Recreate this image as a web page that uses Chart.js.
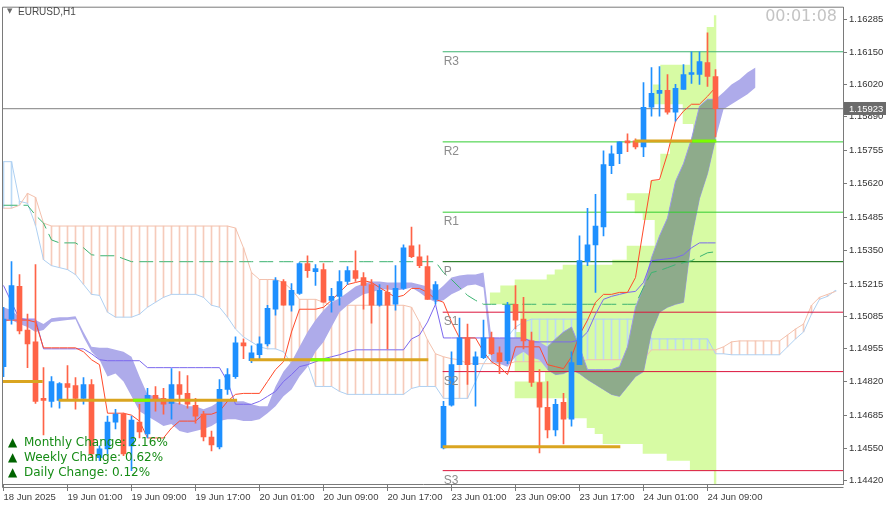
<!DOCTYPE html>
<html>
<head>
<meta charset="utf-8">
<script src="https://cdn.jsdelivr.net/npm/chart.js@4.4.1/dist/chart.umd.min.js"></script>
<style>
  html, body { margin: 0; padding: 0; background: #fff; }
  canvas { display: block; }
</style>
</head>
<body>
<canvas id="chart" width="889" height="510"></canvas>
<script>
// EURUSD H1 - bar 0 is 18 Jun 2025 17:00, one bar per hour
const xTickIdx = [0, 8, 16, 24, 32, 40, 48, 56, 64, 72, 80, 88];
const xLabels = ['18 Jun 2025', '19 Jun 01:00', '19 Jun 09:00', '19 Jun 17:00', '20 Jun 01:00', '20 Jun 09:00',
  '20 Jun 17:00', '23 Jun 01:00', '23 Jun 09:00', '23 Jun 17:00', '24 Jun 01:00', '24 Jun 09:00'];
const yTicks = [1.16285, 1.16150, 1.16020, 1.15890, 1.15755, 1.15620, 1.15485, 1.15350,
  1.15215, 1.15085, 1.14955, 1.14820, 1.14685, 1.14550, 1.14420];

const candleOpen = [
  1.14881, 1.15073, 1.15205, 1.15029, 1.14981, 1.14753, 1.14741, 1.14745, 1.14813, 1.14805,
  1.14753, 1.14809, 1.14513, 1.14549, 1.14657, 1.14689, 1.14561, 1.14657, 1.14609, 1.14765,
  1.14753, 1.14733, 1.14809, 1.14773, 1.14725, 1.14689, 1.14597, 1.14557, 1.14789, 1.14841,
  1.14977, 1.14905, 1.14929, 1.14973, 1.15113, 1.15225, 1.15129, 1.15177, 1.15297, 1.15265,
  1.15273, 1.15149, 1.15165, 1.15225, 1.15269, 1.15241, 1.15213, 1.15129, 1.15181, 1.15133,
  1.15197, 1.15369, 1.15325, 1.15285, 1.15153, 1.14553, 1.14725, 1.14889, 1.14997, 1.14889,
  1.14917, 1.14997, 1.14937, 1.14905, 1.15133, 1.15073, 1.14985, 1.14817, 1.14717, 1.14625,
  1.14737, 1.14669, 1.14889, 1.15305, 1.15373, 1.15445, 1.15693, 1.15741, 1.15793, 1.15793,
  1.15769, 1.15929, 1.15985, 1.15997, 1.15909, 1.16001, 1.16061, 1.16061, 1.16109, 1.16053];
const candleHigh = [
  1.15121, 1.15305, 1.15253, 1.15093, 1.15293, 1.14877, 1.14841, 1.14817, 1.14885, 1.14837,
  1.14837, 1.14829, 1.14561, 1.14681, 1.14709, 1.14693, 1.14681, 1.14729, 1.14793, 1.14801,
  1.14793, 1.14873, 1.14861, 1.14845, 1.14753, 1.14701, 1.14621, 1.14829, 1.14873, 1.15001,
  1.14993, 1.14965, 1.15001, 1.15129, 1.15241, 1.15233, 1.15217, 1.15301, 1.15329, 1.15293,
  1.15297, 1.15197, 1.15269, 1.15285, 1.15349, 1.15261, 1.15233, 1.15213, 1.15209, 1.15289,
  1.15373, 1.15445, 1.15373, 1.15329, 1.15225, 1.14741, 1.14941, 1.15077, 1.15053, 1.14941,
  1.15069, 1.15021, 1.14961, 1.15141, 1.15209, 1.15161, 1.15021, 1.14869, 1.14821, 1.14749,
  1.14773, 1.14941, 1.15409, 1.15521, 1.15577, 1.15753, 1.15773, 1.15789, 1.15821, 1.15801,
  1.16029, 1.16089, 1.16093, 1.16061, 1.16021, 1.16101, 1.16153, 1.16153, 1.16229, 1.16081];
const candleLow = [
  1.14841, 1.15053, 1.15013, 1.14877, 1.14733, 1.14605, 1.14717, 1.14713, 1.14749, 1.14709,
  1.14729, 1.14517, 1.14501, 1.14529, 1.14629, 1.14521, 1.14461, 1.14593, 1.14593, 1.14701,
  1.14689, 1.14669, 1.14729, 1.14713, 1.14653, 1.14581, 1.14541, 1.14549, 1.14769, 1.14833,
  1.14913, 1.14897, 1.14909, 1.14965, 1.15089, 1.15129, 1.15105, 1.15173, 1.15241, 1.15209,
  1.15141, 1.15101, 1.15129, 1.15213, 1.15225, 1.15113, 1.15057, 1.15125, 1.14953, 1.15109,
  1.15193, 1.15321, 1.15281, 1.15153, 1.15133, 1.14549, 1.14721, 1.14889, 1.14809, 1.14721,
  1.14913, 1.14929, 1.14853, 1.14893, 1.15033, 1.14953, 1.14801, 1.14533, 1.14593, 1.14601,
  1.14569, 1.14641, 1.14889, 1.15289, 1.15181, 1.15409, 1.15661, 1.15701, 1.15749, 1.15761,
  1.15729, 1.15893, 1.15893, 1.15901, 1.15873, 1.16001, 1.16025, 1.16021, 1.16013, 1.15809];
const candleClose = [
  1.15073, 1.15209, 1.15025, 1.14973, 1.14741, 1.14745, 1.14821, 1.14813, 1.14797, 1.14753,
  1.14809, 1.14529, 1.14549, 1.14657, 1.14689, 1.14529, 1.14665, 1.14617, 1.14765, 1.14749,
  1.14729, 1.14809, 1.14769, 1.14729, 1.14681, 1.14597, 1.14565, 1.14789, 1.14849, 1.14977,
  1.14965, 1.14937, 1.14973, 1.15117, 1.15229, 1.15129, 1.15189, 1.15297, 1.15269, 1.15277,
  1.15141, 1.15165, 1.15225, 1.15269, 1.15237, 1.15209, 1.15129, 1.15189, 1.15129, 1.15197,
  1.15361, 1.15325, 1.15289, 1.15153, 1.15213, 1.14721, 1.14889, 1.14997, 1.14889, 1.14921,
  1.14997, 1.14933, 1.14901, 1.15129, 1.15069, 1.14985, 1.14817, 1.14717, 1.14625, 1.14729,
  1.14669, 1.14897, 1.15309, 1.15373, 1.15449, 1.15697, 1.15741, 1.15789, 1.15785, 1.15769,
  1.15929, 1.15985, 1.15997, 1.15909, 1.16005, 1.16061, 1.16069, 1.16113, 1.16053, 1.15923];

// fast line (red) and slow line (slate blue), one value per bar
const tenkan = [
  1.15069, 1.15069, 1.15069, 1.15069, 1.15061, 1.14957, 1.14957, 1.14957, 1.14957, 1.14957,
  1.14941, 1.14909, 1.14889, 1.14693, 1.14693, 1.14693, 1.14685, 1.14661, 1.14593, 1.14593,
  1.14593, 1.14633, 1.14661, 1.14661, 1.14661, 1.14689, 1.14689, 1.14701, 1.14741, 1.14769,
  1.14773, 1.14773, 1.14773, 1.14821, 1.14869, 1.14901, 1.15021, 1.15113, 1.15113, 1.15113,
  1.15121, 1.15149, 1.15181, 1.15213, 1.15221, 1.15229, 1.15221, 1.15201, 1.15181, 1.15161,
  1.15169, 1.15197, 1.15197, 1.15181, 1.15153, 1.15141, 1.15061, 1.14997, 1.14997, 1.14997,
  1.14941, 1.14901, 1.14881, 1.14849, 1.14961, 1.14961, 1.14961, 1.14961, 1.14889, 1.14881,
  1.14873, 1.14921, 1.15009, 1.15069, 1.15141, 1.15173, 1.15173, 1.15181, 1.15181, 1.15241,
  1.15441, 1.15633, 1.15637, 1.15741, 1.15873, 1.15913, 1.15941, 1.15941, 1.15973, 1.16009];
const kijun = [
  1.15209, 1.15141, 1.15073, 1.15073, 1.15073, 1.14953, 1.14953, 1.14953, 1.14953, 1.14953,
  1.14953, 1.14933, 1.14909, 1.14905, 1.14905, 1.14905, 1.14905, 1.14905, 1.14877, 1.14877,
  1.14877, 1.14877, 1.14877, 1.14877, 1.14877, 1.14877, 1.14877, 1.14877, 1.14821, 1.14729,
  1.14729, 1.14729, 1.14741, 1.14761, 1.14781, 1.14821, 1.14849, 1.14881, 1.14889, 1.14901,
  1.14913, 1.14921, 1.14929, 1.14941, 1.14949, 1.14949, 1.14949, 1.14949, 1.14949, 1.14949,
  1.14949, 1.14993, 1.15009, 1.15061, 1.15133, 1.14997, 1.14997, 1.14997, 1.14997, 1.14997,
  1.14997, 1.14997, 1.14997, 1.14997, 1.14997, 1.14997, 1.14981, 1.14981, 1.14981, 1.14981,
  1.14981, 1.14981, 1.14989, 1.15021, 1.15093, 1.15153, 1.15165, 1.15173, 1.15181, 1.15185,
  1.15221, 1.15309, 1.15313, 1.15317, 1.15321, 1.15333, 1.15361, 1.15381, 1.15381, 1.15381];
// green dashed line
const greenLine = [
  1.15533, 1.15533, 1.15533, 1.15533, 1.15493, 1.15461, 1.15393, 1.15381, 1.15381, 1.15381,
  1.15361, 1.15333, 1.15329, 1.15329, 1.15329, 1.15317, 1.15305, 1.15305, 1.15305, 1.15305,
  1.15305, 1.15305, 1.15305, 1.15305, 1.15305, 1.15305, 1.15305, 1.15305, 1.15305, 1.15305,
  1.15305, 1.15305, 1.15305, 1.15305, 1.15305, 1.15305, 1.15305, 1.15305, 1.15305, 1.15305,
  1.15305, 1.15305, 1.15305, 1.15305, 1.15305, 1.15305, 1.15305, 1.15305, 1.15305, 1.15305,
  1.15305, 1.15305, 1.15305, 1.15305, 1.15305, 1.15261, 1.15233, 1.15201, 1.15169, 1.15149,
  1.15133, 1.15133, 1.15133, 1.15133, 1.15133, 1.15133, 1.15133, 1.15133, 1.15133, 1.15133,
  1.15133, 1.15133, 1.15133, 1.15133, 1.15133, 1.15133, 1.15133, 1.15133, 1.15133, 1.15133,
  1.15201, 1.15261, 1.15269, 1.15281, 1.15293, 1.15301, 1.15309, 1.15325, 1.15341, 1.15345];

// hatched cloud: span A (salmon) and span B (light blue), bars 0..104
const spanA = [
  1.15521, 1.15521, 1.15533, 1.15581, 1.15565, 1.15461, 1.15449, 1.15449, 1.15449, 1.15449,
  1.15449, 1.15449, 1.15449, 1.15449, 1.15449, 1.15449, 1.15449, 1.15449, 1.15449, 1.15449,
  1.15449, 1.15449, 1.15449, 1.15449, 1.15449, 1.15449, 1.15449, 1.15449, 1.15449, 1.15441,
  1.15361, 1.15261, 1.15233, 1.15233, 1.15233, 1.15221, 1.15193, 1.15153, 1.15153, 1.15153,
  1.15141, 1.15129, 1.15129, 1.15129, 1.15129, 1.15129, 1.15129, 1.15129, 1.15129, 1.15129,
  1.15129, 1.15121, 1.15061, 1.14989, 1.14933, 1.14921, 1.14913, 1.14909, 1.14893, 1.14893,
  1.14893, 1.14893, 1.14893, 1.14893, 1.14901, 1.14901, 1.14901, 1.14901, 1.14901, 1.14901,
  1.14901, 1.14901, 1.14901, 1.14909, 1.14909, 1.14909, 1.14909, 1.14909, 1.14909, 1.14909,
  1.14909, 1.14949, 1.14949, 1.14949, 1.14949, 1.14949, 1.14949, 1.14949, 1.14949, 1.14949,
  1.14961, 1.14981, 1.14985, 1.14985, 1.14985, 1.14985, 1.14985, 1.14985, 1.15009, 1.15033,
  1.15053, 1.15129, 1.15161, 1.15173, 1.15185];
const spanB = [
  1.15709, 1.15709, 1.15549, 1.15541, 1.15453, 1.15313, 1.15289, 1.15281, 1.15273, 1.15253,
  1.15213, 1.15173, 1.15169, 1.15101, 1.15081, 1.15081, 1.15081, 1.15093, 1.15121, 1.15141,
  1.15161, 1.15173, 1.15173, 1.15173, 1.15173, 1.15161, 1.15129, 1.15121, 1.15081, 1.15033,
  1.15001, 1.14981, 1.14961, 1.14953, 1.14953, 1.14941, 1.14893, 1.14893, 1.14893, 1.14801,
  1.14801, 1.14801, 1.14781, 1.14769, 1.14769, 1.14769, 1.14769, 1.14769, 1.14769, 1.14769,
  1.14769, 1.14793, 1.14801, 1.14801, 1.14801, 1.14753, 1.14753, 1.14753, 1.14753, 1.14821,
  1.14893, 1.14941, 1.14961, 1.15001, 1.15041, 1.15061, 1.15073, 1.15073, 1.15073, 1.15073,
  1.15073, 1.15073, 1.15073, 1.15073, 1.15073, 1.15073, 1.15073, 1.15073, 1.15073, 1.15073,
  1.15073, 1.14993, 1.14993, 1.14993, 1.14993, 1.14993, 1.14993, 1.14993, 1.14993, 1.14933,
  1.14933, 1.14929, 1.14929, 1.14929, 1.14929, 1.14929, 1.14929, 1.14929, 1.14961, 1.14993,
  1.15021, 1.15093, 1.15153, 1.15165, 1.15189];

// solid (lavender) cloud, upper and lower edge, bars 0..94
const cloudTop = [
  1.15121, 1.15109, 1.15081, 1.15073, 1.15069, 1.15053, 1.15077, 1.15081, 1.15081, 1.15085,
  1.15021, 1.14961, 1.14957, 1.14957, 1.14949, 1.14941, 1.14921, 1.14841, 1.14769, 1.14761,
  1.14749, 1.14741, 1.14733, 1.14721, 1.14721, 1.14709, 1.14721, 1.14741, 1.14749, 1.14741,
  1.14741, 1.14729, 1.14721, 1.14721, 1.14801, 1.14861, 1.14901, 1.14961, 1.15021, 1.15069,
  1.15109, 1.15141, 1.15157, 1.15181, 1.15205, 1.15217, 1.15225, 1.15225, 1.15221, 1.15221,
  1.15221, 1.15221, 1.15213, 1.15205, 1.15181, 1.15209, 1.15241, 1.15249, 1.15253, 1.15253,
  1.15261, 1.14997, 1.14997, 1.14997, 1.14997, 1.14997, 1.14989, 1.14981, 1.14961, 1.14993,
  1.15021, 1.15041, 1.14961, 1.14869, 1.14869, 1.14869, 1.14869, 1.14881, 1.14961, 1.15121,
  1.15201, 1.15321, 1.15409, 1.15481, 1.15629, 1.15701, 1.15801, 1.15933, 1.15961, 1.15961,
  1.15989, 1.16021, 1.16041, 1.16069, 1.16089];
const cloudBot = [
  1.15061, 1.15069, 1.15053, 1.15041, 1.15021, 1.15029, 1.15061, 1.15065, 1.15069, 1.15073,
  1.15001, 1.14941, 1.14909, 1.14841, 1.14853, 1.14821, 1.14761, 1.14701, 1.14681, 1.14661,
  1.14641, 1.14649, 1.14621, 1.14613, 1.14621, 1.14629, 1.14641, 1.14661, 1.14669, 1.14669,
  1.14661, 1.14661, 1.14669, 1.14693, 1.14721, 1.14761, 1.14789, 1.14841, 1.14881, 1.14941,
  1.14981, 1.15041, 1.15101, 1.15129, 1.15153, 1.15173, 1.15181, 1.15193, 1.15193, 1.15189,
  1.15193, 1.15201, 1.15181, 1.15157, 1.15141, 1.15149, 1.15173, 1.15189, 1.15209, 1.15213,
  1.15201, 1.14901, 1.14893, 1.14881, 1.14921, 1.14941, 1.14917, 1.14909, 1.14869, 1.14849,
  1.14853, 1.14869, 1.14853, 1.14829, 1.14809, 1.14789, 1.14769, 1.14761, 1.14801, 1.14841,
  1.14861, 1.15021, 1.15101, 1.15121, 1.15133, 1.15141, 1.15401, 1.15561, 1.15661, 1.15801,
  1.15921, 1.15941, 1.15961, 1.15981, 1.16009];
const cloudDarkFrom = 68, cloudDarkTo = 89;   // part of the cloud inside the volume profile

// today's volume profile: row edges (price) and left end of each row (bar index)
const profileEdges = [
  1.16301, 1.16253, 1.16153, 1.16101, 1.16021, 1.15941, 1.15861, 1.15789, 1.15741, 1.15633,
  1.15581, 1.15553, 1.15501, 1.15473, 1.15369, 1.15313, 1.15293, 1.15273, 1.15253, 1.15233,
  1.15209, 1.15181, 1.15133, 1.15101, 1.15021, 1.14861, 1.14821, 1.14753, 1.14673, 1.14633,
  1.14609, 1.14569, 1.14529, 1.14501, 1.14461, 1.14405];
const profileLeft = [
  88.8, 87.9, 85.8, 82.1, 81.2, 84.9, 86.2, 83.3, 82.1, 80.8,
  77.9, 78.9, 79.9, 81.4, 77.9, 76.1, 69.9, 68.9, 67.9, 63.9,
  62.1, 60.8, 62.7, 64.6, 63.9, 67.7, 63.9, 70.4, 72.9, 73.9,
  74.9, 79.9, 82.9, 85.8, 88.8];
const profileRight = 89.1;

// daily pivots
const pivotNames = ['R3', 'R2', 'R1', 'P', 'S1', 'S2', 'S3'];
const pivotLevels = [1.16153, 1.15789, 1.15505, 1.15305, 1.15101, 1.14861, 1.14461];
const pivotColors = ['#3cb371', '#32cd32', '#32cd32', '#006400', '#dc143c', '#dc143c', '#dc143c'];
const pivotStart = 54.9;

// point of control of each day
const pocLevel = [1.14821, 1.14745, 1.14909, 1.14557, 1.15793];
const pocFrom = [-0.06, 6.9, 30.8, 54.9, 78.9];
const pocTo = [4.9, 29.2, 53.1, 77.1, 86.1];
const pocHiFrom = [null, 16.2, 38.4, null, 86.1];
const pocHiTo = [null, 18.3, 40.8, null, 89.1];

const lastPrice = 1.15923;
const changes = [['Monthly Change', '2.16%'], ['Weekly Change', '0.62%'], ['Daily Change', '0.12%']];

const xMin = -0.0625, xMax = 104.9375;
// half a pixel above the round levels, so one-pixel lines sit on whole rows
const yMin = 1.14407, yMax = 1.16331;
const bull = '#1e90ff', bear = '#ff6347';

const pts = (arr, start = 0) => arr.map((v, k) => ({x: start + k, y: v}));
const seg = (x0, x1, v) => [{x: x0, y: v}, {x: x1, y: v}];
const lineDs = (data, color, order, extra) => Object.assign(
  {type: 'line', data, borderColor: color, borderWidth: 1, pointRadius: 0, fill: false, order}, extra || {});

const profilePts = [{x: profileRight, y: profileEdges[0]}];
profileLeft.forEach((left, r) => {
  profilePts.push({x: left, y: profileEdges[r]}, {x: left, y: profileEdges[r + 1]});
});
profilePts.push({x: profileRight, y: profileEdges[profileEdges.length - 1]});

const idx = candleOpen.map((_, i) => i);
const candleColor = idx.map(i => candleClose[i] >= candleOpen[i] ? bull : bear);

const datasets = [];
datasets.push({type: 'line', data: profilePts, fill: 'shape', backgroundColor: '#d7fba4',
  borderWidth: 0, pointRadius: 0, order: 30});
datasets.push({type: 'bar', data: spanA.map((a, i) => ({x: i, y: [a, spanB[i]]})),
  backgroundColor: spanA.map((a, i) => a >= spanB[i] ? '#f6cbbb' : '#bcdaf6'),
  barThickness: 1, grouped: false, order: 28});
datasets.push(lineDs(pts(spanA), '#f3c1ad', 27));
datasets.push(lineDs(pts(spanB), '#aed0f2', 27));
datasets.push({type: 'line', data: pts(cloudTop), fill: '+1', backgroundColor: '#aeabea',
  borderWidth: 0, pointRadius: 0, order: 25});
datasets.push({type: 'line', data: pts(cloudBot), fill: false, borderWidth: 0, pointRadius: 0, order: 25});
datasets.push(lineDs(pts(cloudTop.slice(cloudDarkFrom, cloudDarkTo + 1), cloudDarkFrom), '#9d9ae6', 24,
  {fill: '+1', backgroundColor: '#8eab8b'}));
datasets.push(lineDs(pts(cloudBot.slice(cloudDarkFrom, cloudDarkTo + 1), cloudDarkFrom), '#9d9ae6', 24));
pivotLevels.forEach((lv, k) => datasets.push(lineDs(seg(pivotStart, xMax, lv), pivotColors[k], 20)));
datasets.push(lineDs(seg(xMin, xMax, lastPrice), '#808080', 20));
datasets.push(lineDs(pts(greenLine), '#3cb371', 15, {borderDash: [14, 6]}));
datasets.push(lineDs(pts(kijun), '#7b68ee', 14));
datasets.push(lineDs(pts(tenkan), '#ff4a2a', 13));
datasets.push({type: 'bar', data: idx.map(i => ({x: i, y: [candleLow[i], candleHigh[i]]})),
  backgroundColor: candleColor, barThickness: 1, grouped: false, order: 8});
datasets.push({type: 'bar', data: idx.map(i => ({x: i, y: [candleOpen[i], candleClose[i]]})),
  backgroundColor: candleColor, barThickness: 5, grouped: false, minBarLength: 1, order: 7});
pocLevel.forEach((lv, k) => {
  datasets.push(lineDs(seg(pocFrom[k], pocTo[k], lv), '#daa520', 3, {borderWidth: 3}));
  if (pocHiFrom[k] !== null) {
    datasets.push(lineDs(seg(pocHiFrom[k], pocHiTo[k], lv), '#7cfc00', 2, {borderWidth: 3}));
  }
});

const axisFont = {family: 'Liberation Sans', size: 9.5};

const overlay = {
  id: 'overlay',
  afterDraw(chart) {
    const {ctx, chartArea: a, scales: {x, y}} = chart;
    ctx.save();
    ctx.strokeStyle = '#7a7a7a';
    ctx.lineWidth = 1;
    ctx.beginPath();
    ctx.moveTo(a.left - 0.5, a.bottom + 3.5);
    ctx.lineTo(a.left - 0.5, a.top - 0.5);
    ctx.lineTo(a.right + 0.5, a.top - 0.5);
    ctx.moveTo(a.left - 0.5, a.bottom + 3.5);
    ctx.lineTo(a.right + 0.5, a.bottom + 3.5);
    ctx.stroke();

    // pivot names
    ctx.fillStyle = '#8c8c8c';
    ctx.font = '12px "Liberation Sans"';
    ctx.textBaseline = 'alphabetic';
    pivotNames.forEach((n, k) => {
      ctx.fillText(n, x.getPixelForValue(pivotStart) + 1, y.getPixelForValue(pivotLevels[k]) + 13);
    });

    // symbol and bar timer
    ctx.fillStyle = '#6a6a6a';
    ctx.font = '7px "DejaVu Sans"';
    ctx.fillText('\u25BC', 7, 13);
    ctx.fillStyle = '#4a4a4a';
    ctx.font = '10px "Liberation Sans"';
    ctx.fillText('EURUSD,H1', 18, 15);
    ctx.fillStyle = '#c4c4c4';
    ctx.font = '16px "DejaVu Sans"';
    ctx.textAlign = 'right';
    ctx.fillText('00:01:08', 837, 21);
    ctx.textAlign = 'left';

    // change summary
    changes.forEach((c, k) => {
      const by = 446 + k * 15;
      ctx.fillStyle = '#006400';
      ctx.font = '12px "DejaVu Sans"';
      ctx.fillText('\u25B2', 8, by);
      ctx.fillStyle = '#168c16';
      ctx.fillText(c[0] + ': ' + c[1], 24, by);
    });

    // last price tag
    const py = Math.round(y.getPixelForValue(lastPrice));
    ctx.fillStyle = '#6b6b6b';
    ctx.fillRect(a.right + 1, py - 7, 42, 13);
    ctx.fillStyle = '#ffffff';
    ctx.font = '9.5px "Liberation Sans"';
    ctx.textBaseline = 'middle';
    ctx.fillText(lastPrice.toFixed(5), a.right + 6, py);
    ctx.restore();
  }
};

new Chart(document.getElementById('chart'), {
  type: 'line',
  data: {datasets},
  options: {
    responsive: false,
    devicePixelRatio: 1,
    animation: false,
    events: [],
    layout: {padding: {left: 3, top: 3, right: 0, bottom: 0}, autoPadding: false},
    plugins: {legend: {display: false}, tooltip: {enabled: false}},
    scales: {
      x: {
        type: 'linear', position: 'bottom', min: xMin, max: xMax, offset: false,
        grid: {drawOnChartArea: false, offset: false, tickLength: 7, color: '#7a7a7a'},
        border: {color: '#7a7a7a'},
        ticks: {autoSkip: false, maxRotation: 0, align: 'start', padding: 1, color: '#404040', font: axisFont,
          callback: (v, i) => xLabels[i]},
        afterBuildTicks: s => { s.ticks = xTickIdx.map(v => ({value: v})); },
        afterFit: s => { s.height = 26; }
      },
      y: {
        type: 'linear', position: 'right', min: yMin, max: yMax, beginAtZero: false,
        grid: {drawOnChartArea: false, tickLength: 4, color: '#7a7a7a'},
        border: {color: '#7a7a7a'},
        ticks: {padding: 2, color: '#333', font: axisFont, callback: v => v.toFixed(5)},
        afterBuildTicks: s => { s.ticks = yTicks.map(v => ({value: v})); },
        afterFit: s => { s.width = 46; }
      }
    }
  },
  plugins: [overlay]
});
</script>
</body>
</html>
